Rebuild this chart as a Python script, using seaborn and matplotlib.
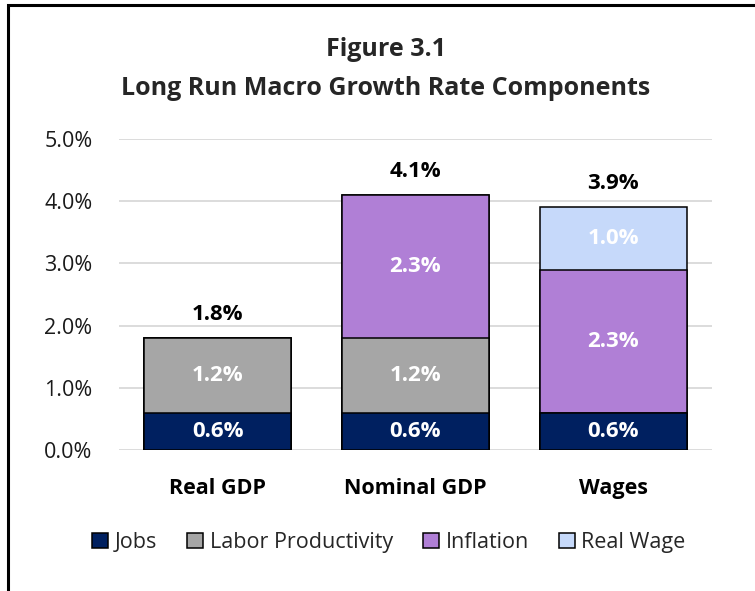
import matplotlib
matplotlib.use("Agg")
import matplotlib.pyplot as plt
from matplotlib.patches import Patch, Rectangle
import seaborn as sns
import pandas as pd
import numpy as np

categories = ["Real GDP", "Nominal GDP", "Wages"]
components = ["Jobs", "Labor Productivity", "Inflation", "Real Wage"]
jobs = [0.6, 0.6, 0.6]
labor_productivity = [1.2, 1.2, 0.0]
inflation = [0.0, 2.3, 2.3]
real_wage = [0.0, 0.0, 1.0]
colors = ["#002060", "#A6A6A6", "#B07FD6", "#C6D9FA"]
y_ticks = [0, 1, 2, 3, 4, 5]
y_tick_labels = ["0.0%", "1.0%", "2.0%", "3.0%", "4.0%", "5.0%"]

sns.set_theme(style="white")
plt.rcParams["font.family"] = ["Open Sans", "DejaVu Sans"]

series = [jobs, labor_productivity, inflation, real_wage]
cum = np.cumsum(np.array(series), axis=0)
totals = cum[-1]

fig = plt.figure(figsize=(7.55, 5.91), dpi=100)
ax = fig.add_axes([0.1576, 0.2386, 0.7854, 0.5262])

# draw layered cumulative bars from top to bottom
for i in range(len(components) - 1, -1, -1):
    df = pd.DataFrame({"cat": categories, "val": cum[i]})
    sns.barplot(data=df, x="cat", y="val", color=colors[i], width=0.745,
                edgecolor="black", linewidth=1.1, ax=ax, saturation=1, zorder=3)

# segment labels
for i in range(len(components)):
    for j, cat in enumerate(categories):
        v = series[i][j]
        if v > 0:
            base = cum[i][j] - v
            ax.text(j, base + v / 2, f"{v:.1f}%", ha="center", va="center",
                    color="white", fontsize=16, fontweight="bold", zorder=5)
for j, t in enumerate(totals):
    ax.text(j, t + 0.38, f"{t:.1f}%", ha="center", va="center",
            color="black", fontsize=16, fontweight="bold", zorder=5)

ax.set_ylim(0, 5)
ax.set_xlim(-0.5, 2.5)
ax.set_yticks(y_ticks)
ax.set_yticklabels(y_tick_labels, fontsize=15.5, color="#1a1a1a")
ax.set_xticks(range(len(categories)))
ax.set_xticklabels(categories, fontsize=15.5, fontweight="bold", color="black")
ax.tick_params(axis="x", length=0, pad=20)
ax.tick_params(axis="y", length=0, pad=19)
ax.set_xlabel("")
ax.set_ylabel("")
ax.yaxis.grid(True, color="#D9D9D9", linewidth=1.3, zorder=0)
ax.set_axisbelow(True)
for s in ax.spines.values():
    s.set_visible(False)

fig.text(0.511, 0.917, "Figure 3.1", ha="center", va="center",
         fontsize=18, fontweight="bold")
fig.text(0.511, 0.851, "Long Run Macro Growth Rate Components", ha="center",
         va="center", fontsize=18, fontweight="bold")

handles = [Patch(facecolor=c, edgecolor="black", linewidth=1.1) for c in colors]
fig.legend(handles, components, loc="center", bbox_to_anchor=(0.515, 0.082),
           ncol=4, frameon=False, fontsize=15.5, handlelength=0.75,
           handleheight=0.75, handletextpad=0.3, columnspacing=1.4)

# figure border (cropped on right and bottom)
fig.patches.append(Rectangle((0.0106, -0.05), 1.05, 0.9915 + 0.05,
                             transform=fig.transFigure, fill=False,
                             edgecolor="black", linewidth=2.2))

fig.savefig("out.png", dpi=100)
